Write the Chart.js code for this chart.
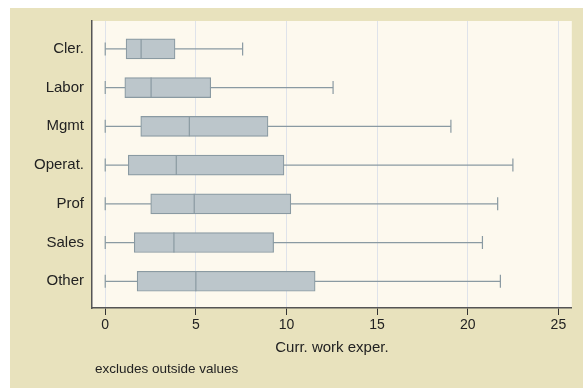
<!DOCTYPE html>
<html>
<head>
<meta charset="utf-8">
<script src="https://cdn.jsdelivr.net/npm/chart.js@4"></script>
<style>
html, body { margin: 0; padding: 0; background: #fff; }
#wrap { width: 583px; height: 388px; }
</style>
</head>
<body>
<div id="wrap"><canvas id="chart"></canvas></div>
<script>
let groups = ["Cler.", "Labor", "Mgmt", "Operat.", "Prof", "Sales", "Other"];
let lowWhisk = [0, 0, 0, 0, 0, 0, 0];
let q1 = [1.15, 1.08, 1.96, 1.27, 2.51, 1.60, 1.76];
let medians = [1.98, 2.53, 4.64, 3.92, 4.91, 3.79, 5.00];
let q3 = [3.85, 5.82, 8.98, 9.86, 10.24, 9.29, 11.58];
let highWhisk = [7.58, 12.57, 19.07, 22.49, 21.65, 20.81, 21.80];
let xTicks = [0, 5, 10, 15, 20, 25];
let xTitle = "Curr. work exper.";
let note = "excludes outside values";

const FONT = "'Liberation Sans', Arial, Helvetica, sans-serif";
const TEXT = "#222";
const EDGE = "#8a9aa2";

// whiskers: one segment per group, gaps between
let whiskerPts = [];
let capPts = [];
groups.forEach((g, i) => {
    whiskerPts.push({x: lowWhisk[i], y: i}, {x: highWhisk[i], y: i}, {x: null, y: null});
    capPts.push({x: lowWhisk[i], y: i}, {x: highWhisk[i], y: i});
});

let boxes = groups.map((g, i) => ({x: [q1[i], q3[i]], y: i}));
let medPts = groups.map((g, i) => ({x: medians[i], y: i}));

// BACKGROUND + NOTE
const backdrop = {
    id: "backdrop",
    beforeDraw(chart) {
        let ctx = chart.ctx, a = chart.chartArea;
        ctx.save();
        ctx.fillStyle = "#e8e2bd";
        ctx.fillRect(10, 8, chart.width - 10, chart.height - 8);
        ctx.fillStyle = "#fdf9ee";
        ctx.fillRect(a.left, a.top, a.right - a.left, a.bottom - a.top);
        ctx.restore();
    },
    afterDraw(chart) {
        let ctx = chart.ctx;
        ctx.save();
        ctx.font = "13.5px " + FONT;
        ctx.fillStyle = TEXT;
        ctx.textBaseline = "middle";
        ctx.fillText(note, 95, 369);
        ctx.restore();
    }
};

new Chart(document.getElementById("chart"), {
    data: {
        datasets: [
            {
                type: "line",
                data: whiskerPts,
                borderColor: EDGE,
                borderWidth: 1.2,
                pointRadius: 0,
                spanGaps: false,
                order: 4
            },
            {
                type: "scatter",
                data: capPts,
                pointStyle: "line",
                rotation: 90,
                pointRadius: 6.5,
                borderColor: EDGE,
                borderWidth: 1.2,
                order: 3
            },
            {
                type: "bar",
                indexAxis: "y",
                data: boxes,
                barThickness: 20,
                backgroundColor: "#bcc6cb",
                borderColor: EDGE,
                borderWidth: 1.2,
                borderSkipped: false,
                order: 2
            },
            {
                type: "scatter",
                data: medPts,
                pointStyle: "line",
                rotation: 90,
                pointRadius: 10,
                borderColor: EDGE,
                borderWidth: 1.2,
                order: 1
            }
        ]
    },
    options: {
        responsive: true,
        maintainAspectRatio: false,
        animation: false,
        events: [],
        layout: {padding: {top: 21, right: 9, left: 0, bottom: 27}},
        plugins: {legend: {display: false}, tooltip: {enabled: false}},
        scales: {
            x: {
                type: "linear",
                min: -0.73,
                max: 25.74,
                offset: false,
                afterBuildTicks: s => { s.ticks = xTicks.map(v => ({value: v})); },
                afterFit: s => { s.height = 53; },
                grid: {color: "#dfe3ea", lineWidth: 1, tickColor: "#333", tickLength: 7},
                border: {color: "#555", width: 1.5},
                ticks: {font: {family: FONT, size: 14}, color: TEXT, padding: 2, maxRotation: 0},
                title: {display: true, text: xTitle, font: {family: FONT, size: 15}, color: TEXT, padding: {top: 4}}
            },
            y: {
                type: "linear",
                reverse: true,
                min: -0.72,
                max: 6.69,
                offset: false,
                afterBuildTicks: s => { s.ticks = groups.map((g, i) => ({value: i})); },
                afterFit: s => { s.width = 92; },
                grid: {display: false, drawTicks: false, offset: false},
                border: {display: true, color: "#555", width: 1.5},
                ticks: {
                    font: {family: FONT, size: 15},
                    color: TEXT,
                    padding: 8,
                    callback: v => groups[v]
                }
            }
        }
    },
    plugins: [backdrop]
});
</script>
</body>
</html>
